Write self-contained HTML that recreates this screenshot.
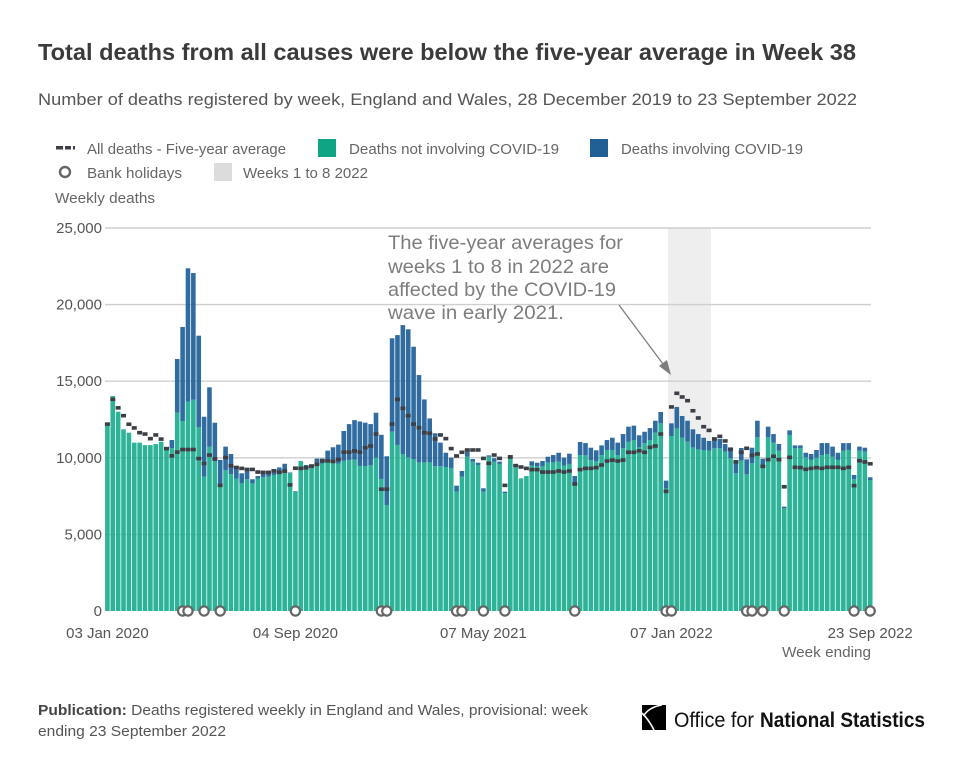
<!DOCTYPE html>
<html lang="en">
<head>
<meta charset="utf-8">
<title>Total deaths from all causes</title>
<style>
html,body{margin:0;padding:0;background:#fff;width:958px;height:771px;overflow:hidden}
svg{display:block}
text{font-family:"Liberation Sans",sans-serif}
.legend{font-size:15px;fill:#666}
.axis{font-size:15px;fill:#666}
.axis-dark{font-size:15px;fill:#555}
.note{font-size:19.5px;fill:#7d7d7d}
.foot{font-size:14.5px;fill:#555}
</style>
</head>
<body>
<svg id="chart" width="958" height="771" viewBox="0 0 958 771" xmlns="http://www.w3.org/2000/svg">
  <text x="38" y="60" font-size="23" font-weight="700" fill="#3b3b3b" textLength="818" lengthAdjust="spacingAndGlyphs">Total deaths from all causes were below the five-year average in Week 38</text>
  <text x="38" y="105" font-size="17" fill="#555" textLength="819" lengthAdjust="spacingAndGlyphs">Number of deaths registered by week, England and Wales, 28 December 2019 to 23 September 2022</text>

  <g>
    <g>
      <rect x="56" y="146" width="7" height="3.5" fill="#3c3f45"/>
      <rect x="65" y="146" width="6" height="3.5" fill="#3c3f45"/>
      <rect x="73" y="146" width="2" height="3.5" fill="#3c3f45"/>
      <text class="legend" x="87" y="154" textLength="199" lengthAdjust="spacingAndGlyphs">All deaths - Five-year average</text>
    </g>
    <g>
      <rect x="318" y="139" width="18" height="18" fill="#0fa584"/>
      <text class="legend" x="349" y="154" textLength="210" lengthAdjust="spacingAndGlyphs">Deaths not involving COVID-19</text>
    </g>
    <g>
      <rect x="590" y="139" width="18" height="18" fill="#206095"/>
      <text class="legend" x="621" y="154" textLength="182" lengthAdjust="spacingAndGlyphs">Deaths involving COVID-19</text>
    </g>
    <g>
      <circle cx="65" cy="172" r="5" fill="#fff" stroke="#666" stroke-width="2.4"/>
      <text class="legend" x="87" y="178" textLength="95" lengthAdjust="spacingAndGlyphs">Bank holidays</text>
    </g>
    <g>
      <rect x="214" y="163" width="18" height="18" fill="#dcdcdc"/>
      <text class="legend" x="243" y="178" textLength="125" lengthAdjust="spacingAndGlyphs">Weeks 1 to 8 2022</text>
    </g>
  </g>

  <text class="axis" x="55" y="203" textLength="100" lengthAdjust="spacingAndGlyphs">Weekly deaths</text>

  <rect x="668" y="228" width="43" height="383" fill="#eeeeee"/>
  <g id="grid"></g>
  <g id="yLabels"></g>
  <g id="bars"></g>
  <g id="avg"></g>
  <g id="holidays"></g>
  <g id="xLabels"></g>

  <text class="axis" x="782" y="657" textLength="89" lengthAdjust="spacingAndGlyphs">Week ending</text>

  <g>
    <text class="note" x="388" y="249" textLength="235" lengthAdjust="spacingAndGlyphs">The five-year averages for</text>
    <text class="note" x="388" y="273" textLength="221" lengthAdjust="spacingAndGlyphs">weeks 1 to 8 in 2022 are</text>
    <text class="note" x="388" y="296" textLength="228" lengthAdjust="spacingAndGlyphs">affected by the COVID-19</text>
    <text class="note" x="388" y="319" textLength="176" lengthAdjust="spacingAndGlyphs">wave in early 2021.</text>
    <line x1="619" y1="305" x2="666" y2="368" stroke="#7d7d7d" stroke-width="1.3"/>
    <polygon points="671,375 659,366 667,360" fill="#7d7d7d"/>
  </g>

  <g>
    <text class="foot" x="38" y="715" textLength="550" lengthAdjust="spacingAndGlyphs"><tspan font-weight="700" fill="#444">Publication:</tspan> Deaths registered weekly in England and Wales, provisional: week</text>
    <text class="foot" x="38" y="736" textLength="188" lengthAdjust="spacingAndGlyphs">ending 23 September 2022</text>
  </g>

  <g>
    <rect x="642" y="705" width="24" height="25" fill="#000"/>
    <path d="M662 705 Q649 707 643.5 716" fill="none" stroke="#fff" stroke-width="1.6"/>
    <path d="M642 713 Q649 720 654 730" fill="none" stroke="#fff" stroke-width="1.6"/>
    <text x="674" y="727" font-size="21" fill="#111" textLength="80" lengthAdjust="spacingAndGlyphs">Office for</text>
    <text x="760" y="727" font-size="21" font-weight="700" fill="#111" textLength="165" lengthAdjust="spacingAndGlyphs">National Statistics</text>
  </g>
</svg>
<script>
const nonCovid = [12290,14030,13010,11860,11640,10990,10990,10830,10830,10900,11050,10620,10620,12950,12400,13660,13800,11990,8770,10720,9770,8100,9200,8930,8650,8330,8600,8330,8650,8730,8770,8880,8950,9020,8990,7780,9790,9310,9310,9460,9630,9800,9800,9630,9800,9840,9890,9470,9460,9510,10020,8620,6920,11700,10840,10250,10030,9900,9700,9700,9700,9460,9460,9400,9310,7790,8770,10070,9750,9530,7790,10070,9750,9600,7700,9960,9360,8660,8810,9490,9440,9440,9700,9700,9750,9490,9600,8330,10180,10160,9840,9770,10180,10510,10510,10180,10620,11040,11160,10680,10950,11160,11640,12250,8000,11420,11920,11310,11050,10680,10550,10510,10470,10620,10620,10400,9970,8990,9810,8920,9640,11340,9440,11340,10990,10470,6700,11490,10620,10620,10030,9860,10010,10180,10250,10070,9860,10470,10510,8600,10470,10400,8550];
const involvingCovid = [0,0,0,0,0,0,0,0,0,0,0,0,540,3500,6140,8710,8260,5980,3910,3880,2520,1760,1530,1320,770,660,560,270,160,220,250,210,420,590,50,40,0,220,260,490,320,670,890,1230,1950,2360,2570,2900,2830,2690,2920,2880,3180,6100,7170,8410,8360,7350,5700,4110,2870,2140,1530,930,700,390,370,330,170,150,220,90,220,150,90,220,0,0,0,280,240,350,370,480,580,520,670,480,850,800,820,720,630,650,800,810,930,990,940,790,750,780,780,740,510,830,1400,1420,1370,1180,1000,800,630,610,610,500,710,870,830,980,1020,1080,500,690,560,430,110,300,190,190,300,390,500,780,710,660,470,490,450,280,260,260,180];
const fiveYearAverage = [12200,13815,13260,12750,12190,11950,11640,11550,11250,11490,11220,10600,10130,10370,10540,10540,10540,9950,9630,10180,9930,8200,10020,9480,9370,9310,9240,9240,9070,9050,9050,9150,9050,9130,8230,9320,9310,9350,9460,9570,9800,9800,9760,9890,10370,10370,10450,10370,10660,10770,11550,7950,7950,12200,13810,13230,12750,12200,11960,11640,11600,11230,11490,11250,10600,10120,10360,10510,10510,10510,9960,9640,10180,9960,8200,10050,9490,9400,9310,9230,9230,9070,9070,9070,9140,9070,9140,8290,9230,9310,9310,9360,9530,9790,9850,9790,9850,10360,10360,10460,10360,10680,10770,11550,7810,13320,14210,13970,13730,13070,12600,12030,11790,11230,11400,11100,10550,9730,10360,10620,10160,10250,9440,9880,10100,9880,8110,10030,9380,9360,9250,9310,9360,9310,9380,9380,9380,9310,9380,8180,9810,9730,9610];
const bankHolidayWeeks = [14,15,18,21,35,51,52,65,66,70,74,87,104,105,119,120,122,126,139,142];
const yTicks = [0,5000,10000,15000,20000,25000];
const xTickWeeks = [0,35,70,105,142];
const xTickLabels = ["03 Jan 2020","04 Sep 2020","07 May 2021","07 Jan 2022","23 Sep 2022"];

const NS = "http://www.w3.org/2000/svg";
const plot = {left:107.4, right:870.2, top:228, bottom:611, yMax:25000};
function xScale(i){ return plot.left + i * (plot.right - plot.left) / (nonCovid.length - 1); }
function yScale(v){ return plot.bottom - v / plot.yMax * (plot.bottom - plot.top); }
function make(tag, attrs){
  const el = document.createElementNS(NS, tag);
  for (const k in attrs) el.setAttribute(k, attrs[k]);
  return el;
}

const grid = document.getElementById("grid");
const yLabels = document.getElementById("yLabels");
yTicks.forEach(function(t){
  if (t > 0) {
    const line = make("line", {x1:105, x2:871, y1:yScale(t), y2:yScale(t), stroke:"#cfcfcf", "stroke-width":1.4});
    
    
    grid.appendChild(line);
  }
  const label = make("text", {x:102, y:yScale(t)+5, "text-anchor":"end", "class":"axis-dark"});
  
  
  label.textContent = t.toLocaleString("en-GB");
  yLabels.appendChild(label);
});

const bars = document.getElementById("bars");
nonCovid.forEach(function(v, i){
  const w = 4.6;
  const base = make("rect", {x:xScale(i)-w/2, y:yScale(v), width:w, height:yScale(0)-yScale(v), fill:"#1bad8f", "fill-opacity":0.92});
  
  
  bars.appendChild(base);
  const c = involvingCovid[i];
  if (c > 0) {
    const top = make("rect", {x:xScale(i)-w/2, y:yScale(v+c), width:w, height:yScale(v)-yScale(v+c), fill:"#1f6098", "fill-opacity":0.92});
    
    
    bars.appendChild(top);
  }
});

const avg = document.getElementById("avg");
fiveYearAverage.forEach(function(v, i){
  const mark = make("rect", {x:xScale(i)-2.5, y:yScale(v)-1.8, width:5, height:3.6, fill:"#3c3f45"});
  
  
  avg.appendChild(mark);
});

const holidays = document.getElementById("holidays");
bankHolidayWeeks.forEach(function(i){
  const dot = make("circle", {cx:xScale(i), cy:plot.bottom, r:4.6, fill:"#fff", stroke:"#666", "stroke-width":2.2});
  
  
  holidays.appendChild(dot);
});

const xLabels = document.getElementById("xLabels");
xTickWeeks.forEach(function(i, n){
  const label = make("text", {x:xScale(i), y:638, "text-anchor":"middle", "class":"axis-dark"});
  
  
  label.textContent = xTickLabels[n];
  xLabels.appendChild(label);
});
</script>
</body>
</html>
